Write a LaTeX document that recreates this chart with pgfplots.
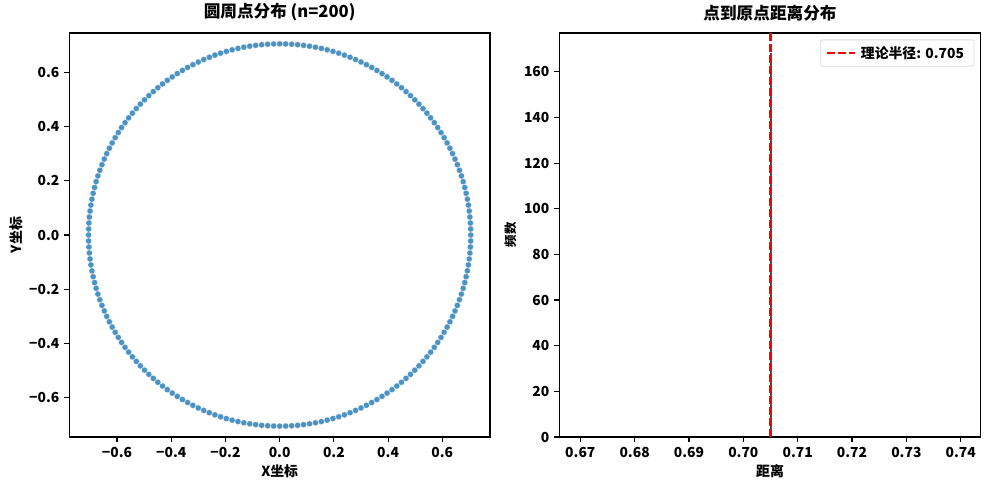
\documentclass[border=0pt]{standalone}
\usepackage{fontspec}
\setmainfont{Noto Sans CJK SC}
\usepackage{pgfplots}
\pgfplotsset{compat=1.18}

\definecolor{tabblue}{HTML}{1F77B4}

\pgfplotsset{
  mpl/.style={
    scale only axis,
    axis line style={line width=1.1bp},
    every tick/.style={black, line width=1.1bp},
    major tick length=4.9bp,
    tick align=outside,
    xtick pos=bottom, ytick pos=left,
    /pgf/number format/assume math mode=true,
    tick label style={font=\bfseries\fontsize{13.9}{16}\selectfont, inner sep=0pt},
    xticklabel style={anchor=north, yshift=-4.9bp},
    yticklabel style={anchor=east, xshift=-4.9bp},
    title style={font=\bfseries\fontsize{16.7}{20}\selectfont, at={(0.5,1)}, anchor=south, yshift=6bp, inner sep=0pt},
    label style={font=\bfseries\fontsize{13.9}{16}\selectfont, inner sep=0pt},
    xlabel style={at={(axis description cs:0.5,0)}, anchor=center, yshift=-34bp},
  },
}

\begin{document}
\begin{tikzpicture}[x=1bp,y=1bp]
\useasboundingbox (0,0) rectangle (989,490);

% left: points on the circle
\begin{axis}[mpl,
  at={(69.3bp,53bp)}, anchor=south west,
  width=420.7bp, height=404bp,
  xmin=-0.776, xmax=0.776, ymin=-0.745, ymax=0.745,
  xtick={-0.6,-0.4,-0.2,0,0.2,0.4,0.6},
  ytick={-0.6,-0.4,-0.2,0,0.2,0.4,0.6},
  xticklabels={−0.6,−0.4,−0.2,0.0,0.2,0.4,0.6},
  yticklabels={−0.6,−0.4,−0.2,0.0,0.2,0.4,0.6},
  title={圆周点分布 (n=200)},
  xlabel={X坐标}, ylabel={Y坐标},
  ylabel style={at={(axis description cs:0,0.5)}, anchor=center, yshift=53bp},
]
\addplot[only marks, mark=*, mark size=3bp,
  mark options={fill=tabblue, fill opacity=0.8, draw=white, draw opacity=0.5, line width=0.4bp}]
coordinates {
 (0.7050,0) (0.70465,0.02214) (0.70361,0.04427) (0.70187,0.06635) (0.69944,0.08836)
 (0.69632,0.11029) (0.69251,0.13210) (0.68802,0.15379) (0.68285,0.17533) (0.67701,0.19669)
 (0.67050,0.21786) (0.66332,0.23881) (0.65549,0.25953) (0.64702,0.27999) (0.63790,0.30017)
 (0.62816,0.32006) (0.61780,0.33964) (0.60682,0.35887) (0.59525,0.37776) (0.58309,0.39627)
 (0.57036,0.41439) (0.55706,0.43210) (0.54321,0.44938) (0.52883,0.46623) (0.51392,0.48261)
 (0.49851,0.49851) (0.48261,0.51392) (0.46623,0.52883) (0.44938,0.54321) (0.43210,0.55706)
 (0.41439,0.57036) (0.39627,0.58309) (0.37776,0.59525) (0.35887,0.60682) (0.33964,0.61780)
 (0.32006,0.62816) (0.30017,0.63790) (0.27999,0.64702) (0.25953,0.65549) (0.23881,0.66332)
 (0.21786,0.67050) (0.19669,0.67701) (0.17533,0.68285) (0.15379,0.68802) (0.13210,0.69251)
 (0.11029,0.69632) (0.08836,0.69944) (0.06635,0.70187) (0.04427,0.70361) (0.02214,0.70465)
 (0,0.7050)
 (-0.7050,0) (-0.70465,0.02214) (-0.70361,0.04427) (-0.70187,0.06635) (-0.69944,0.08836)
 (-0.69632,0.11029) (-0.69251,0.13210) (-0.68802,0.15379) (-0.68285,0.17533) (-0.67701,0.19669)
 (-0.67050,0.21786) (-0.66332,0.23881) (-0.65549,0.25953) (-0.64702,0.27999) (-0.63790,0.30017)
 (-0.62816,0.32006) (-0.61780,0.33964) (-0.60682,0.35887) (-0.59525,0.37776) (-0.58309,0.39627)
 (-0.57036,0.41439) (-0.55706,0.43210) (-0.54321,0.44938) (-0.52883,0.46623) (-0.51392,0.48261)
 (-0.49851,0.49851) (-0.48261,0.51392) (-0.46623,0.52883) (-0.44938,0.54321) (-0.43210,0.55706)
 (-0.41439,0.57036) (-0.39627,0.58309) (-0.37776,0.59525) (-0.35887,0.60682) (-0.33964,0.61780)
 (-0.32006,0.62816) (-0.30017,0.63790) (-0.27999,0.64702) (-0.25953,0.65549) (-0.23881,0.66332)
 (-0.21786,0.67050) (-0.19669,0.67701) (-0.17533,0.68285) (-0.15379,0.68802) (-0.13210,0.69251)
 (-0.11029,0.69632) (-0.08836,0.69944) (-0.06635,0.70187) (-0.04427,0.70361) (-0.02214,0.70465)
 (0.70465,-0.02214) (0.70361,-0.04427) (0.70187,-0.06635) (0.69944,-0.08836)
 (0.69632,-0.11029) (0.69251,-0.13210) (0.68802,-0.15379) (0.68285,-0.17533) (0.67701,-0.19669)
 (0.67050,-0.21786) (0.66332,-0.23881) (0.65549,-0.25953) (0.64702,-0.27999) (0.63790,-0.30017)
 (0.62816,-0.32006) (0.61780,-0.33964) (0.60682,-0.35887) (0.59525,-0.37776) (0.58309,-0.39627)
 (0.57036,-0.41439) (0.55706,-0.43210) (0.54321,-0.44938) (0.52883,-0.46623) (0.51392,-0.48261)
 (0.49851,-0.49851) (0.48261,-0.51392) (0.46623,-0.52883) (0.44938,-0.54321) (0.43210,-0.55706)
 (0.41439,-0.57036) (0.39627,-0.58309) (0.37776,-0.59525) (0.35887,-0.60682) (0.33964,-0.61780)
 (0.32006,-0.62816) (0.30017,-0.63790) (0.27999,-0.64702) (0.25953,-0.65549) (0.23881,-0.66332)
 (0.21786,-0.67050) (0.19669,-0.67701) (0.17533,-0.68285) (0.15379,-0.68802) (0.13210,-0.69251)
 (0.11029,-0.69632) (0.08836,-0.69944) (0.06635,-0.70187) (0.04427,-0.70361) (0.02214,-0.70465)
 (0,-0.7050)
 (-0.70465,-0.02214) (-0.70361,-0.04427) (-0.70187,-0.06635) (-0.69944,-0.08836)
 (-0.69632,-0.11029) (-0.69251,-0.13210) (-0.68802,-0.15379) (-0.68285,-0.17533) (-0.67701,-0.19669)
 (-0.67050,-0.21786) (-0.66332,-0.23881) (-0.65549,-0.25953) (-0.64702,-0.27999) (-0.63790,-0.30017)
 (-0.62816,-0.32006) (-0.61780,-0.33964) (-0.60682,-0.35887) (-0.59525,-0.37776) (-0.58309,-0.39627)
 (-0.57036,-0.41439) (-0.55706,-0.43210) (-0.54321,-0.44938) (-0.52883,-0.46623) (-0.51392,-0.48261)
 (-0.49851,-0.49851) (-0.48261,-0.51392) (-0.46623,-0.52883) (-0.44938,-0.54321) (-0.43210,-0.55706)
 (-0.41439,-0.57036) (-0.39627,-0.58309) (-0.37776,-0.59525) (-0.35887,-0.60682) (-0.33964,-0.61780)
 (-0.32006,-0.62816) (-0.30017,-0.63790) (-0.27999,-0.64702) (-0.25953,-0.65549) (-0.23881,-0.66332)
 (-0.21786,-0.67050) (-0.19669,-0.67701) (-0.17533,-0.68285) (-0.15379,-0.68802) (-0.13210,-0.69251)
 (-0.11029,-0.69632) (-0.08836,-0.69944) (-0.06635,-0.70187) (-0.04427,-0.70361) (-0.02214,-0.70465)
};
\end{axis}

% right: distance histogram
\begin{axis}[mpl,
  at={(559.3bp,53bp)}, anchor=south west,
  width=421.4bp, height=404bp,
  xmin=0.66614, xmax=0.74368, ymin=0, ymax=177,
  xtick={0.67,0.68,0.69,0.70,0.71,0.72,0.73,0.74},
  ytick={0,20,40,60,80,100,120,140,160},
  xticklabel style={/pgf/number format/.cd, fixed, zerofill, precision=2},
  title={点到原点距离分布},
  xlabel={距离}, ylabel={频数},
  ylabel style={at={(axis description cs:0,0.5)}, anchor=center, yshift=49bp, font=\bfseries\fontsize{12.5}{15}\selectfont},
  legend style={at={(axis description cs:0.985,0.984)}, anchor=north east,
    draw=black!15, rounded corners=2bp, line width=0.8bp,
    font=\bfseries\fontsize{13.9}{16}\selectfont, inner xsep=5bp, inner ysep=4.5bp,
    /tikz/every even column/.append style={column sep=0bp}},
  legend cell align=left,
  legend image code/.code={\draw[#1] (-2bp,0bp) -- (26bp,0bp);},
  legend style={nodes={inner xsep=5bp}},
]
\addplot[ybar, bar width=1.6bp, fill=gray!70, draw=black!70, line width=0.4bp, forget plot]
  coordinates {(0.705,168)};
\addplot[red, line width=2.1bp, dash pattern=on 7.7bp off 3.3bp]
  coordinates {(0.705,0) (0.705,177)};
\addlegendentry{理论半径: 0.705}
\end{axis}
\end{tikzpicture}
\end{document}
